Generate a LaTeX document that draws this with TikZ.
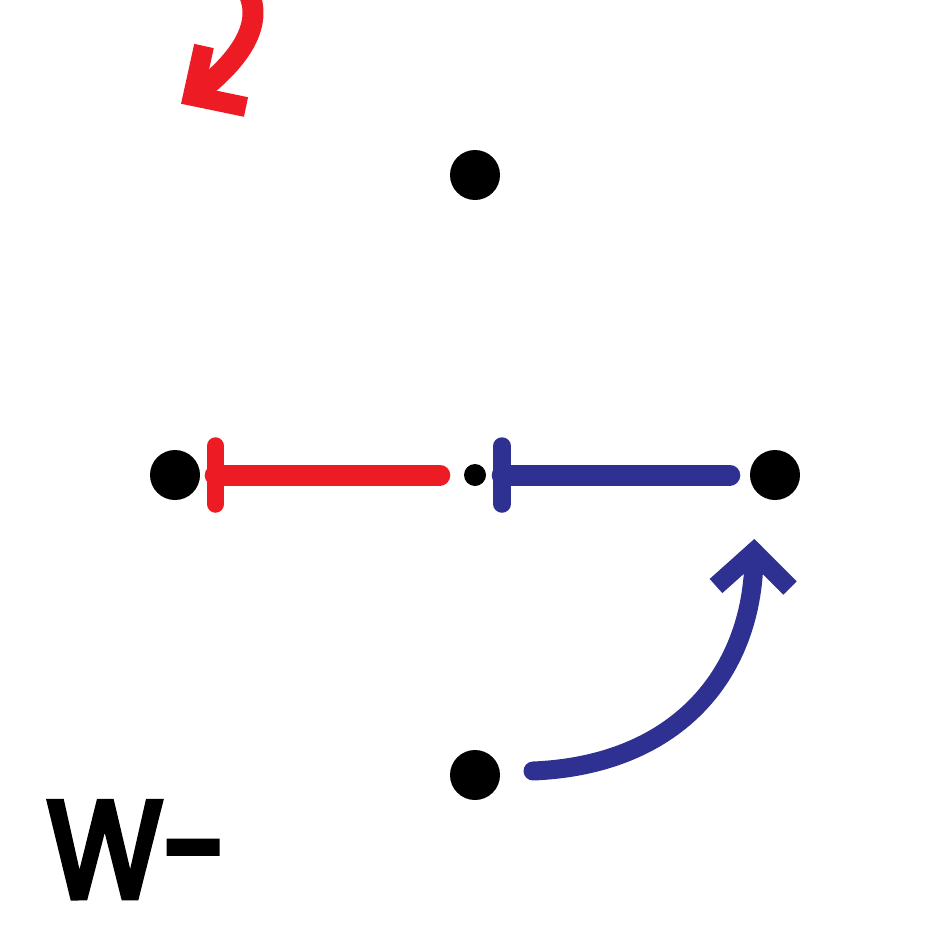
\documentclass[tikz,border=0pt]{standalone}
\usepackage{fontspec}
\newfontfamily\wfont{Poppins}[FakeBold=5]
\definecolor{myred}{HTML}{ED1C24}
\definecolor{myblue}{HTML}{2E3192}
\begin{document}
\begin{tikzpicture}[x=1pt,y=-1pt,
  dotbig/.style={circle,fill=black,inner sep=0pt,minimum size=50pt},
  dotsmall/.style={circle,fill=black,inner sep=0pt,minimum size=22pt},
  shaft/.style={line width=21pt,line cap=round},
  barline/.style={line width=17.5pt,line cap=round},
  chev/.style={line width=19pt,line join=miter,line cap=butt}]
\useasboundingbox (0,0) rectangle (950,950);
\node[dotbig] (top) at (475,175) {};
\node[dotbig] (left) at (175,475) {};
\node[dotsmall] (mid) at (475,475) {};
\node[dotbig] (right) at (775,475) {};
\node[dotbig] (bot) at (475,775) {};
% red inhibition mid -> left
\draw[myred,shaft,shorten <=24pt,shorten >=15pt] (mid) -- (left);
\draw[myred,barline] ([xshift=40.5pt,yshift=-29pt]left.center) -- ([xshift=40.5pt,yshift=29pt]left.center);
% blue inhibition right -> mid
\draw[myblue,shaft,shorten <=20pt,shorten >=16pt] (right) -- (mid);
\draw[myblue,barline] ([xshift=27pt,yshift=-29pt]mid.center) -- ([xshift=27pt,yshift=29pt]mid.center);
% blue curved arrow bot -> right
\coordinate (bs) at (533,771);
\coordinate (be) at (754,552);
\draw[myblue,line width=19pt,line cap=round] (bs) .. controls (680,765) and (755,670) .. (be);
\draw[myblue,chev] (716,586) -- (be) -- (790,588);
% red curved arrow from top-left
\coordinate (rs) at (240,-20);
\coordinate (re) at (193,96);
\draw[myred,line width=21pt] (rs) .. controls (262,5) and (262,45) .. (re);
\draw[myred,chev,line width=20pt] (204,46) -- (re) -- (246,107);
% label
\node[anchor=base west,inner sep=0pt,xscale=0.87,font=\wfont\fontsize{136}{136}\selectfont] (lbl) at (47,897) {W-};
\end{tikzpicture}
\end{document}
